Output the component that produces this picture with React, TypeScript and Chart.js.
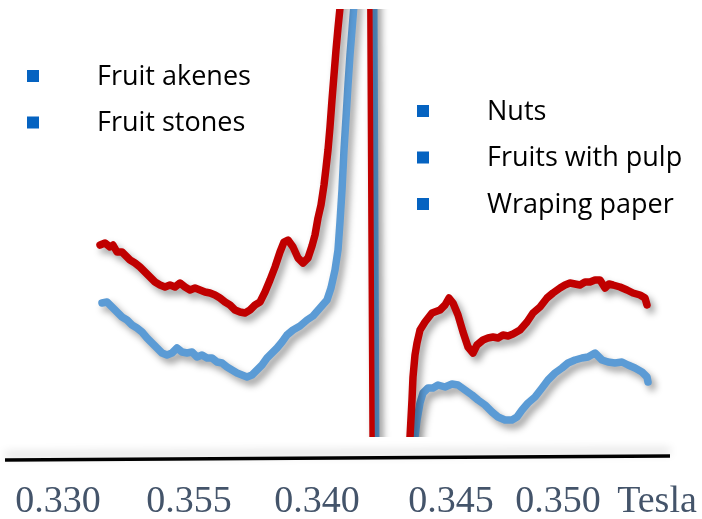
import React, { useEffect, useRef } from 'react';
import { Chart, registerables } from 'chart.js';

Chart.register(...registerables);

// Magnetic field (mT) where the axis labels sit, and the labels printed there
const tickFields = [330.0, 335.24, 340.36, 345.72, 350.0, 353.96];
const tickLabels = ['0.330', '0.355', '0.340', '0.345', '0.350', 'Tesla'];

const legendLeft = ['Fruit akenes', 'Fruit stones'];
const legendRight = ['Nuts', 'Fruits with pulp', 'Wraping paper'];

// Red spectrum (field in mT, signal in arbitrary units)
const redField = [
  331.68, 331.88, 332.08, 332.2, 332.36, 332.56, 332.68, 332.88, 333.08, 333.28,
  333.48, 333.68, 333.88, 334.08, 334.28, 334.48, 334.68, 334.88, 335.08, 335.28,
  335.48, 335.68, 335.88, 336.08, 336.28, 336.48, 336.68, 336.88, 337.08, 337.28,
  337.48, 337.68, 337.88, 338.08, 338.28, 338.48, 338.68, 338.88, 339.04, 339.2,
  339.4, 339.6, 339.8, 340.0, 340.16, 340.28, 340.4, 340.52, 340.64, 340.72,
  340.8, 340.88, 340.96, 341.04, 341.12, 341.2, 341.28, 341.4, 342.46, 342.58,
  344.0, 344.08, 344.16, 344.2, 344.28, 344.36, 344.48, 344.68, 344.96, 345.28,
  345.48, 345.64, 345.8, 346.0, 346.2, 346.4, 346.6, 346.76, 347.0, 347.2,
  347.4, 347.6, 347.8, 348.0, 348.2, 348.48, 348.76, 349.0, 349.28, 349.56,
  349.8, 350.08, 350.28, 350.48, 350.68, 350.88, 351.08, 351.28, 351.48, 351.68,
  351.88, 352.04, 352.2, 352.48, 352.76, 353.0, 353.28, 353.48, 353.56,
];
const redSignal = [
  -22, -20, -24, -22, -29, -29, -32, -37, -40, -44,
  -49, -54, -59, -62, -64, -62, -64, -60, -64, -67,
  -65, -67, -69, -70, -72, -75, -79, -82, -87, -89,
  -90, -87, -82, -79, -69, -57, -44, -29, -19, -17,
  -24, -35, -40, -35, -23, -12, 5, 18, 38, 55,
  73, 96, 123, 148, 173, 195, 215, 263, 283, -297,
  -297, -214, -177, -154, -132, -120, -107, -99, -90, -87,
  -82, -75, -80, -92, -109, -124, -130, -122, -117, -115,
  -114, -115, -112, -113, -111, -107, -99, -90, -84, -75,
  -70, -65, -62, -60, -61, -62, -59, -59, -57, -57,
  -65, -61, -62, -64, -67, -70, -72, -75, -82,
];

// Blue spectrum
const blueField = [
  331.76, 331.96, 332.16, 332.36, 332.56, 332.76, 332.96, 333.16, 333.36, 333.56,
  333.76, 333.96, 334.16, 334.36, 334.56, 334.76, 334.96, 335.16, 335.36, 335.56,
  335.76, 335.96, 336.16, 336.36, 336.56, 336.76, 336.96, 337.16, 337.36, 337.56,
  337.76, 337.96, 338.16, 338.36, 338.56, 338.76, 338.96, 339.16, 339.4, 339.68,
  339.96, 340.2, 340.48, 340.76, 340.92, 341.08, 341.2, 341.28, 341.36, 341.44,
  341.52, 341.6, 341.68, 341.76, 341.84, 341.96, 342.66, 342.76, 344.2, 344.28,
  344.36, 344.48, 344.6, 344.8, 345.0, 345.2, 345.48, 345.76, 346.0, 346.28,
  346.56, 346.8, 347.08, 347.36, 347.6, 347.88, 348.16, 348.36, 348.56, 348.8,
  349.08, 349.36, 349.6, 349.88, 350.16, 350.4, 350.68, 350.96, 351.2, 351.48,
  351.76, 352.0, 352.28, 352.56, 352.8, 353.08, 353.36, 353.56, 353.6,
];
const blueSignal = [
  -80, -79, -84, -89, -94, -97, -102, -105, -109, -115,
  -120, -125, -130, -132, -130, -125, -129, -130, -129, -134,
  -132, -135, -135, -139, -140, -144, -147, -150, -152, -154,
  -152, -147, -142, -135, -130, -125, -119, -112, -107, -103,
  -97, -93, -85, -77, -65, -47, -27, 1, 33, 73,
  105, 138, 168, 193, 218, 263, 283, -297, -297, -214,
  -197, -180, -170, -165, -165, -162, -164, -161, -162, -167,
  -172, -177, -182, -189, -194, -197, -197, -194, -187, -180,
  -174, -165, -157, -150, -145, -140, -137, -135, -134, -130,
  -137, -139, -140, -139, -142, -145, -149, -154, -159,
];

const RED = '#C00000';
const BLUE = '#5B9BD5';
const MARKER = '#0563C1';

const toPoints = (xs: number[], ys: number[]) => xs.map((x, i) => ({ x, y: ys[i] }));

// the off-scale jumps are drawn a little thinner, as in the original
const segWidth = (ctx: any) => (Math.abs(ctx.p1.parsed.y - ctx.p0.parsed.y) > 150 ? 5.5 : 7.5);

const shadowPlugin = {
  id: 'lineShadow',
  beforeDatasetsDraw(chart: any) {
    const c = chart.ctx;
    c.save();
    c.shadowColor = 'rgba(0,0,0,0.38)';
    c.shadowBlur = 7;
    c.shadowOffsetX = 4;
    c.shadowOffsetY = 5;
  },
  afterDatasetsDraw(chart: any) {
    chart.ctx.restore();
  },
};

const decorPlugin = {
  id: 'decor',
  afterDraw(chart: any) {
    const c = chart.ctx;
    const area = chart.chartArea;
    const xs = chart.scales.x;

    // baseline axis
    c.save();
    c.shadowColor = 'rgba(0,0,0,0.22)';
    c.shadowBlur = 10;
    c.shadowOffsetY = -5;
    c.strokeStyle = '#000';
    c.lineWidth = 3.5;
    c.beginPath();
    c.moveTo(area.left, area.bottom + 23);
    c.lineTo(area.right + 5, area.bottom + 19);
    c.stroke();
    c.restore();

    // axis labels, placed through the x scale
    c.save();
    c.font = '38px "Liberation Serif", "Times New Roman", serif';
    c.fillStyle = '#44546A';
    c.textAlign = 'center';
    c.textBaseline = 'alphabetic';
    tickFields.forEach((v, i) => {
      c.fillText(tickLabels[i], xs.getPixelForValue(v), area.bottom + 75);
    });
    c.restore();

    // legend blocks
    c.save();
    c.font = '27px "Open Sans", sans-serif';
    c.textBaseline = 'middle';
    c.textAlign = 'left';
    const drawItem = (label: string, mx: number, tx: number, cy: number) => {
      c.fillStyle = MARKER;
      c.fillRect(mx - 6, cy - 6, 12, 12);
      c.fillStyle = '#000';
      c.fillText(label, tx, cy + 1);
    };
    legendLeft.forEach((l, i) => drawItem(l, 33, 97, 76 + i * 46.5));
    legendRight.forEach((l, i) => drawItem(l, 423, 487, 111 + i * 46.5));
    c.restore();
  },
};

export default function App() {
  const ref = useRef<HTMLCanvasElement | null>(null);

  useEffect(() => {
    if (!ref.current) return;
    const chart = new Chart(ref.current, {
      type: 'line',
      data: {
        datasets: [
          {
            label: 'red',
            data: toPoints(redField, redSignal),
            borderColor: RED,
            borderWidth: 7.5,
            borderJoinStyle: 'round',
            borderCapStyle: 'round',
            pointRadius: 0,
            tension: 0,
            fill: false,
            clip: 0,
            segment: { borderWidth: segWidth },
          },
          {
            label: 'blue',
            data: toPoints(blueField, blueSignal),
            borderColor: BLUE,
            borderWidth: 7.5,
            borderJoinStyle: 'round',
            borderCapStyle: 'round',
            pointRadius: 0,
            tension: 0,
            fill: false,
            clip: 0,
            segment: { borderWidth: segWidth },
          },
        ],
      },
      options: {
        responsive: false,
        animation: false,
        layout: { padding: { left: 5, right: 37, top: 9, bottom: 82 } },
        plugins: { legend: { display: false }, tooltip: { enabled: false } },
        scales: {
          x: {
            type: 'linear',
            display: false,
            min: 327.88,
            max: 354.28,
          },
          y: {
            display: false,
            min: -214,
            max: 214,
          },
        },
      },
      plugins: [shadowPlugin, decorPlugin],
    } as any);
    return () => chart.destroy();
  }, []);

  return (
    <div style={{ position: 'fixed', left: 0, top: 0, width: 702, height: 519, background: '#fff' }}>
      <canvas ref={ref} width={702} height={519} style={{ display: 'block' }} />
    </div>
  );
}
